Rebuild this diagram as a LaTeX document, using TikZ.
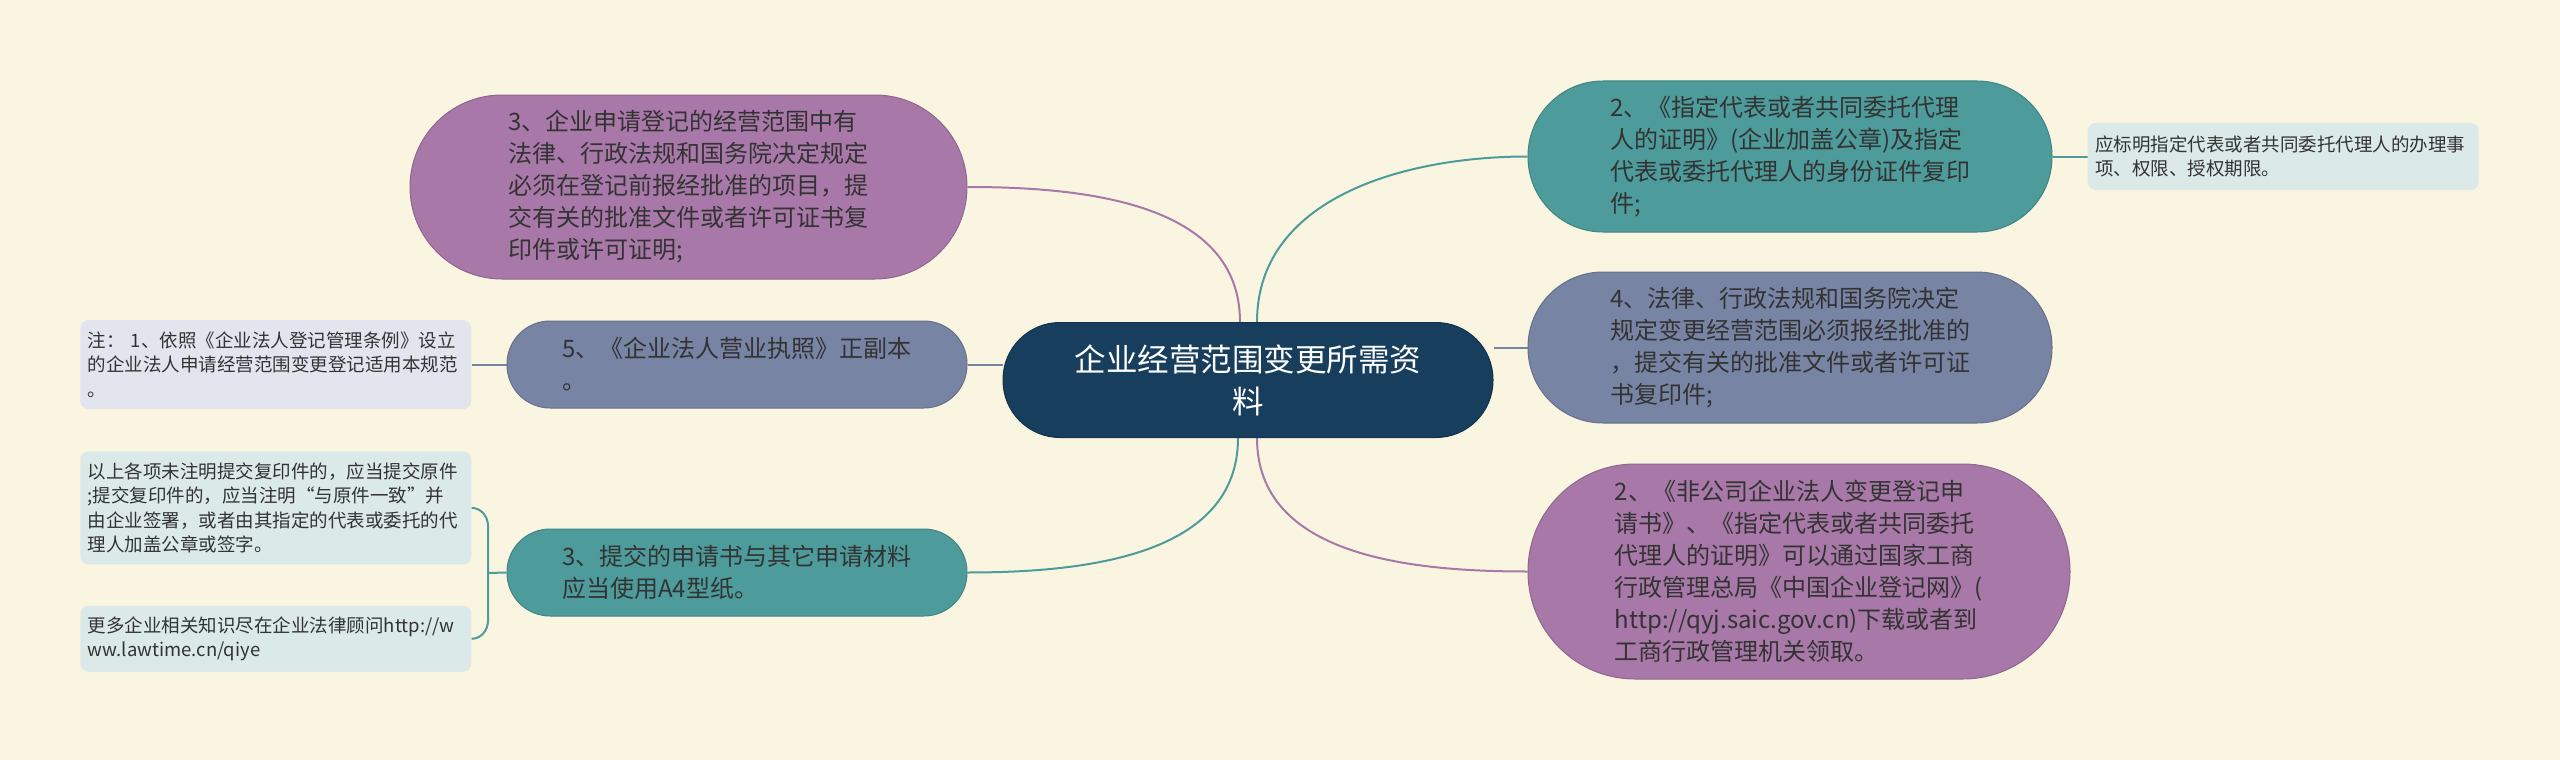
\documentclass[tikz,border=0pt]{standalone}
\usepackage{fontspec}
\setmainfont{Noto Sans CJK SC}
\usepackage{tikz}
\usetikzlibrary{positioning,calc,backgrounds}
\definecolor{paper}{RGB}{250,245,225}
\definecolor{navy}{RGB}{24,62,94}
\definecolor{plum}{RGB}{168,120,168}
\definecolor{sea}{RGB}{77,155,155}
\definecolor{slate}{RGB}{120,132,164}
\definecolor{notegray}{RGB}{226,229,238}
\definecolor{noteteal}{RGB}{219,233,232}
\definecolor{ink}{RGB}{51,51,51}
\tikzstyle{topic}=[draw=navy!80!black,fill=navy,text=white,align=center,line width=1pt,font=\fontsize{31.5}{42}\selectfont]
\tikzstyle{branch}=[draw,line width=1pt,text=ink,align=left,font=\fontsize{24}{32}\selectfont]
\tikzstyle{plumbox}=[branch,fill=plum,draw=plum!85!black]
\tikzstyle{seabox}=[branch,fill=sea,draw=sea!85!black]
\tikzstyle{slatebox}=[branch,fill=slate,draw=slate!85!black]
\tikzstyle{note}=[rounded corners=8pt,text=ink,align=left,minimum width=391pt,text width=376pt,font=\fontsize{18.5}{24.5}\selectfont]
\tikzstyle{link}=[line width=2pt]

\begin{document}
\begin{tikzpicture}[x=1pt,y=-1pt]
  \useasboundingbox (0,0) rectangle (2560,760);
  \begin{scope}[on background layer]
    \fill[paper] (0,0) rectangle (2560,760);
  \end{scope}
  % central topic
  \node[topic,minimum width=490pt,minimum height=115pt,rounded corners=57pt] (c) at (1248,380) {企业经营范围变更所需资\\料};
  % left branches
  \node[plumbox,minimum width=557pt,minimum height=184pt,rounded corners=92pt] (p3) at (688.5,187) {3、企业申请登记的经营范围中有\\法律、行政法规和国务院决定规定\\必须在登记前报经批准的项目，提\\交有关的批准文件或者许可证书复\\印件或许可证明;};
  \node[slatebox,minimum width=460pt,minimum height=87pt,rounded corners=43pt] (b5) at (737,364.5) {5、《企业法人营业执照》正副本\\。};
  \node[seabox,minimum width=460pt,minimum height=87pt,rounded corners=43pt] (t3) at (737,572.5) {3、提交的申请书与其它申请材料\\应当使用A4型纸。};
  % right branches
  \node[seabox,minimum width=524pt,minimum height=151pt,rounded corners=75pt] (t2) at (1790,156.5) {2、《指定代表或者共同委托代理\\人的证明》(企业加盖公章)及指定\\代表或委托代理人的身份证件复印\\件;};
  \node[slatebox,minimum width=524pt,minimum height=151pt,rounded corners=75pt] (s4) at (1790,347.5) {4、法律、行政法规和国务院决定\\规定变更经营范围必须报经批准的\\，提交有关的批准文件或者许可证\\书复印件;};
  \node[plumbox,minimum width=542pt,minimum height=215pt,rounded corners=107pt] (p2) at (1799,571.5) {2、《非公司企业法人变更登记申\\请书》、《指定代表或者共同委托\\代理人的证明》可以通过国家工商\\行政管理总局《中国企业登记网》(\\http://qyj.saic.gov.cn)下载或者到\\工商行政管理机关领取。};
  % notes
  \node[note,fill=notegray,minimum height=89pt,left=35pt of b5] (leaf1) {注： 1、依照《企业法人登记管理条例》设立\\的企业法人申请经营范围变更登记适用本规范\\。};
  \node[note,fill=noteteal,minimum height=113pt,below=42pt of leaf1] (leaf2) {以上各项未注明提交复印件的，应当提交原件\\;提交复印件的，应当注明“与原件一致”并\\由企业签署，或者由其指定的代表或委托的代\\理人加盖公章或签字。};
  \node[note,fill=noteteal,minimum height=66pt,below=41pt of leaf2] (leaf3) {更多企业相关知识尽在企业法律顾问http://w\\ww.lawtime.cn/qiye};
  \node[note,fill=noteteal,minimum height=67pt,right=35pt of t2] (leafR) {应标明指定代表或者共同委托代理人的办理事\\项、权限、授权期限。};
  \coordinate (fork) at (488,573);
  \begin{scope}[on background layer]
    \draw[link,plum] ([xshift=-8pt]c.north) to[out=90,in=0] (p3.east);
    \draw[link,slate] (b5.east) -- (b5.east -| c.west);
    \draw[link,sea] ([xshift=-10pt]c.south) to[out=-90,in=0] (t3.east);
    \draw[link,sea] ([xshift=9pt]c.north) to[out=90,in=180] (t2.west);
    \draw[link,slate] (s4.west) -- (s4.west -| c.east);
    \draw[link,plum] ([xshift=9pt]c.south) to[out=-90,in=180] (p2.west);
    \draw[link,slate] (b5.west) -- (leaf1.east);
    \draw[link,sea] (t2.east) -- (leafR.west);
    \draw[link,sea] (t3.west) -- (fork);
    \draw[link,sea] (leaf2.east) to[out=0,in=90] ($(fork |- leaf2.east)+(0,18)$) -- ($(fork |- leaf3.east)+(0,-18)$) to[out=-90,in=0] (leaf3.east);
  \end{scope}
\end{tikzpicture}
\end{document}
